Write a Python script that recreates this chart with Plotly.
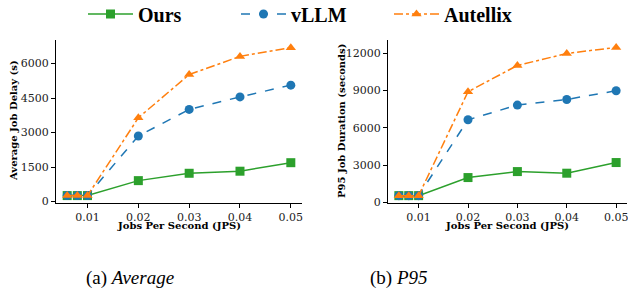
import plotly.graph_objects as go

jps = [0.006, 0.008, 0.01, 0.02, 0.03, 0.04, 0.05]
x_ticks = [0.01, 0.02, 0.03, 0.04, 0.05]
x_tick_labels = ["0.01", "0.02", "0.03", "0.04", "0.05"]

avg_ours = [260, 260, 260, 910, 1230, 1320, 1690]
avg_vllm = [260, 260, 260, 2850, 4005, 4550, 5060]
avg_autellix = [260, 260, 260, 3640, 5520, 6310, 6690]

p95_ours = [560, 560, 560, 2010, 2490, 2360, 3215]
p95_vllm = [560, 560, 560, 6650, 7830, 8280, 8980]
p95_autellix = [560, 560, 560, 8900, 11010, 11970, 12460]

avg_ticks = [0, 1500, 3000, 4500, 6000]
avg_tick_labels = ["0", "1500", "3000", "4500", "6000"]
p95_ticks = [0, 3000, 6000, 9000, 12000]
p95_tick_labels = ["0", "3000", "6000", "9000", "12000"]

GREEN = "#2ca02c"
BLUE = "#1f77b4"
ORANGE = "#ff7f0e"

W, H = 628, 293
fig = go.Figure()

series = [
    ("Ours", GREEN, "solid", "square", avg_ours, p95_ours),
    ("vLLM", BLUE, "dash", "circle", avg_vllm, p95_vllm),
    ("Autellix", ORANGE, "dashdot", "triangle-up", avg_autellix, p95_autellix),
]
for name, color, dash, sym, a, p in series:
    fig.add_trace(go.Scatter(x=jps, y=a, name=name, mode="lines+markers",
                             line=dict(color=color, width=1.5, dash=dash),
                             marker=dict(symbol=sym, size=9, color=color),
                             xaxis="x", yaxis="y", showlegend=True))
    fig.add_trace(go.Scatter(x=jps, y=p, name=name, mode="lines+markers",
                             line=dict(color=color, width=1.5, dash=dash),
                             marker=dict(symbol=sym, size=9, color=color),
                             xaxis="x2", yaxis="y2", showlegend=False))

tickfont = dict(family="DejaVu Serif", size=11, color="#222")
common_x = dict(range=[0.0038, 0.0522], tickvals=x_ticks, ticktext=x_tick_labels,
                showline=True, linecolor="black", linewidth=1, ticks="outside",
                ticklen=4, tickcolor="black", showgrid=False, zeroline=False,
                tickfont=tickfont, automargin=False, ticklabeloverflow="allow")
common_y = dict(showline=True, linecolor="black", linewidth=1, ticks="outside",
                ticklen=4, tickcolor="black", showgrid=False, zeroline=False,
                tickfont=tickfont, automargin=False, ticklabeloverflow="allow")

y0 = 1 - 203 / H
y1 = 1 - 40 / H
fig.update_layout(
    width=W, height=H,
    margin=dict(l=0, r=0, t=0, b=0, pad=0, autoexpand=False),
    paper_bgcolor="white", plot_bgcolor="white",
    xaxis=dict(domain=[56 / W, 302 / W], anchor="y", **common_x),
    yaxis=dict(domain=[y0, y1], anchor="x", range=[-62, 7022], tickvals=avg_ticks,
               ticktext=avg_tick_labels, **common_y),
    xaxis2=dict(domain=[388 / W, 627 / W], anchor="y2", **common_x),
    yaxis2=dict(domain=[y0, y1], anchor="x2", range=[-32, 13053], tickvals=p95_ticks,
                ticktext=p95_tick_labels, **common_y),
    legend=dict(orientation="h", x=83 / W, xanchor="left", y=1 - 14 / H, yanchor="middle",
                font=dict(family="Liberation Serif", size=20, color="black", weight="bold"),
                itemwidth=45, entrywidth=93, entrywidthmode="pixels",
                bgcolor="rgba(0,0,0,0)"),
    showlegend=True,
)

ann_font = dict(family="DejaVu Serif", size=10, color="black", weight="bold")
annotations = [
    dict(text="Average Job Delay (s)", x=14 / W, y=1 - 121 / H, textangle=-90, font=ann_font),
    dict(text="Jobs Per Second (JPS)", x=179 / W, y=1 - 225.5 / H, font=ann_font),
    dict(text="P95 Job Duration (seconds)", x=342 / W, y=1 - 121 / H, textangle=-90, font=ann_font),
    dict(text="Jobs Per Second (JPS)", x=507 / W, y=1 - 225.5 / H, font=ann_font),
    dict(text="(a) <i>Average</i>", x=130 / W, y=1 - 278 / H,
         font=dict(family="Liberation Serif", size=19, color="black")),
    dict(text="(b) <i>P95</i>", x=399 / W, y=1 - 278 / H,
         font=dict(family="Liberation Serif", size=19, color="black")),
]
for a in annotations:
    a.update(xref="paper", yref="paper", showarrow=False, xanchor="center", yanchor="middle")
fig.update_layout(annotations=annotations)

fig.write_html(
    "out.html",
    config={"displayModeBar": False},
    post_script="document.body.style.margin='0';document.body.style.overflow='hidden';",
)
